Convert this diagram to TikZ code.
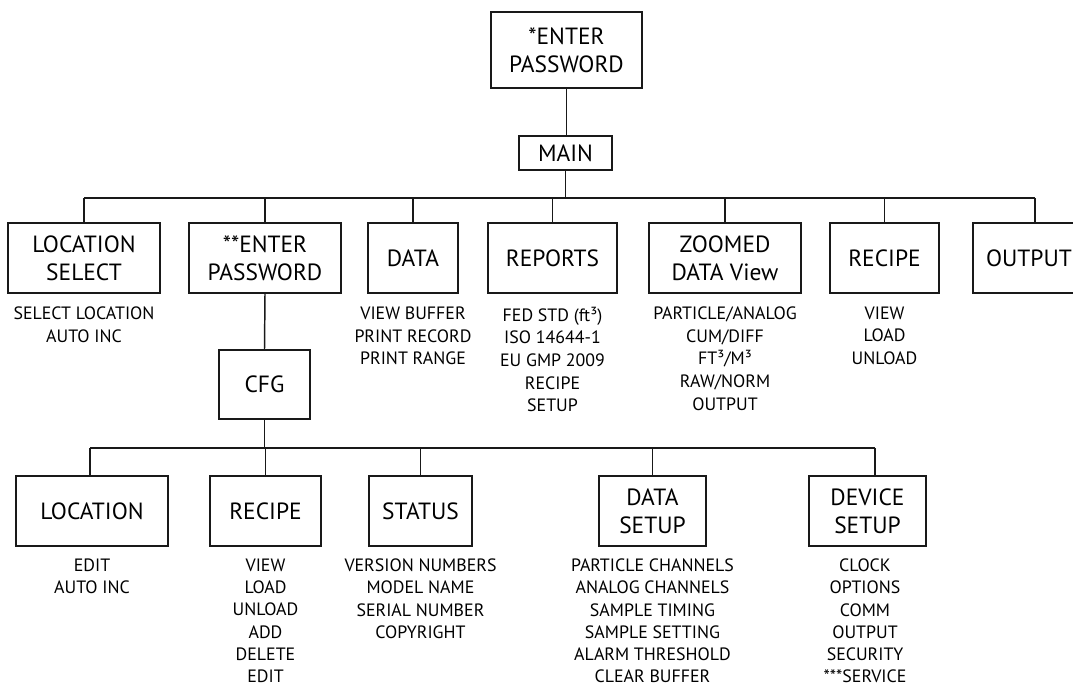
\documentclass[tikz,border=0pt]{standalone}
\usepackage{fontspec}
\setmainfont{PT Sans}
\begin{document}
\begin{tikzpicture}[x=0.75pt,y=-0.75pt,line width=1.1pt,
  box/.style={draw=black!90, align=center, inner sep=0pt, font=\fontsize{17.6}{21}\selectfont, minimum height=52.5pt},
  bw/.style={minimum width={#1*0.75pt}},
  bh/.style={minimum height={#1*0.75pt}},
  items/.style={anchor=north, align=center, inner sep=0pt, font=\fontsize{13.4}{17}\selectfont},
  items2/.style={items, font=\fontsize{13.4}{16.7}\selectfont},
  conn/.style={draw=black!90}]
\useasboundingbox (0,0) rectangle (1073,690);
\clip (0,0) rectangle (1073,690);
% top levels
\node[box,bw=151,bh=76] (top) at (566.5,50) {*ENTER\\PASSWORD};
\node[box,bw=93,bh=34] (main) at (565.5,153) {MAIN};
% level 1
\node[box,bw=152] (locsel) at (84,258) {LOCATION\\SELECT};
\node[box,bw=152] (enter2) at (265,258) {**ENTER\\PASSWORD};
\node[box,bw=90] (data) at (413,258) {DATA};
\node[box,bw=129] (reports) at (552.5,258) {REPORTS};
\node[box,bw=152] (zoomed) at (725,258) {ZOOMED\\DATA View};
\node[box,bw=109] (recipe) at (884.5,258) {RECIPE};
\node[box,bw=112] (output) at (1029,258) {OUTPUT};
% level 1 items
\node[items] (i1) at (84,306) {SELECT LOCATION\\AUTO INC};
\node[items] (i3) at (413,306) {VIEW BUFFER\\PRINT RECORD\\PRINT RANGE};
\node[items] (i4) at (552.5,306) {FED STD (ft³)\\ISO 14644-1\\EU GMP 2009\\RECIPE\\SETUP};
\node[items] (i5) at (725,306) {PARTICLE/ANALOG\\CUM/DIFF\\FT³/M³\\RAW/NORM\\OUTPUT};
\node[items] (i6) at (884.5,306) {VIEW\\LOAD\\UNLOAD};
% cfg
\node[box,bw=91,bh=69] (cfg) at (264.5,384.5) {CFG};
% level 2
\node[box,bw=152] (loc) at (92,511) {LOCATION};
\node[box,bw=111] (recipe2) at (265.5,511) {RECIPE};
\node[box,bw=103] (status) at (420.5,511) {STATUS};
\node[box,bw=107] (dsetup) at (652.5,511) {DATA\\SETUP};
\node[box,bw=117] (devsetup) at (867.5,511) {DEVICE\\SETUP};
% level 2 items
\node[items2] (j1i) at (92,558) {EDIT\\AUTO INC};
\node[items2] (j2i) at (265.5,558) {VIEW\\LOAD\\UNLOAD\\ADD\\DELETE\\EDIT};
\node[items2] (j3i) at (420.5,558) {VERSION NUMBERS\\MODEL NAME\\SERIAL NUMBER\\COPYRIGHT};
\node[items2] (j4i) at (652.5,558) {PARTICLE CHANNELS\\ANALOG CHANNELS\\SAMPLE TIMING\\SAMPLE SETTING\\ALARM THRESHOLD\\CLEAR BUFFER};
\node[items2] (j5i) at (865,558) {CLOCK\\OPTIONS\\COMM\\OUTPUT\\SECURITY\\***SERVICE};
% connectors level 0-1
\coordinate (b1l) at (84,198);
\coordinate (b1r) at (1035,198);
\coordinate (oc) at (1035,198);
\draw[conn] (top.south) -- (top.south |- main.north);
\draw[conn] (main.south) -- (main.south |- b1l);
\draw[conn] (b1l) -- (b1r);
\foreach \n in {locsel,enter2,data,reports,zoomed,recipe}
  \draw[conn] (\n.north) -- (\n.north |- b1l);
\draw[conn] (oc) -- (oc |- output.north);
% connectors cfg
\draw[conn] (enter2.south) -- (cfg.north);
\coordinate (b2l) at (90,448);
\coordinate (b2r) at (875,448);
\draw[conn] (cfg.south) -- (cfg.south |- b2l);
\draw[conn] (b2l) -- (b2r);
\draw[conn] (b2l) -- (b2l |- loc.north);
\foreach \n in {recipe2,status,dsetup}
  \draw[conn] (\n.north) -- (\n.north |- b2l);
\draw[conn] (b2r) -- (b2r |- devsetup.north);
\end{tikzpicture}
\end{document}
